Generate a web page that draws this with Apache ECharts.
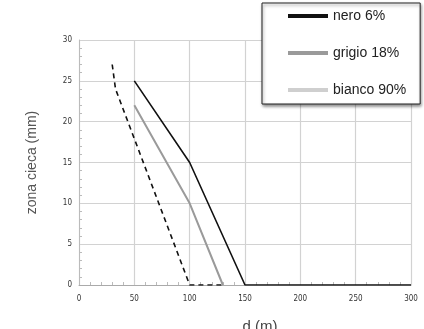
<!DOCTYPE html>
<html>
<head>
<meta charset="utf-8">
<script src="https://cdn.jsdelivr.net/npm/echarts@6/dist/echarts.min.js"></script>
<style>
  html, body { margin: 0; padding: 0; background: #fff; }
  #main { width: 424px; height: 329px; }
</style>
</head>
<body>
<div id="main"></div>
<script>
// dati (d in m, zona cieca in mm)
var nero = [[50, 25], [100, 15], [150, 0], [300, 0]]
var grigio = [[50, 22], [100, 10], [130, 0]]
var bianco = []
var tratteggio = [[30, 27], [33, 24], [100, 0], [130, 0]]
var legendNames = ['nero 6%', 'grigio 18%', 'bianco 90%']
var xTicks = [0, 300, 50]
var yTicks = [0, 30, 5]

var chart = echarts.init(document.getElementById('main'))

var tickFont = 'DejaVu Sans Condensed'

chart.setOption({
  animation: false,
  backgroundColor: '#fff',
  grid: { left: 79, right: 13, top: 40, bottom: 44, outerBoundsMode: 'none', containLabel: false },
  legend: {
    data: legendNames,
    orient: 'vertical',
    left: 262,
    top: 3,
    padding: [6, 14, 7, 24],
    itemGap: 23,
    itemWidth: 40,
    itemHeight: 14,
    itemTextGap: 14,
    backgroundColor: '#fff',
    borderColor: '#222',
    borderWidth: 1,
    borderRadius: 0,
    shadowColor: 'rgba(0,0,0,0.45)',
    shadowBlur: 3,
    shadowOffsetX: 1,
    shadowOffsetY: 2,
    itemStyle: { opacity: 0 },
    lineStyle: { width: 4, type: 'solid' },
    textStyle: { fontFamily: 'Liberation Sans', fontSize: 14, color: '#222' }
  },
  xAxis: {
    type: 'value',
    min: xTicks[0],
    max: xTicks[1],
    interval: xTicks[2],
    name: 'd (m)',
    nameLocation: 'middle',
    nameGap: 34,
    nameTextStyle: { fontFamily: 'Liberation Sans', fontSize: 15, color: '#444', padding: [0, 0, 0, 30] },
    axisLine: { show: true, lineStyle: { color: '#aaa', width: 1 } },
    axisTick: { show: false, inside: true },
    minorTick: { show: true, splitNumber: 5, length: 3, lineStyle: { color: '#bbb' } },
    axisLabel: { fontFamily: tickFont, fontSize: 8, color: '#333', margin: 10 },
    splitLine: { show: true, lineStyle: { color: '#d2d2d2', width: 1.2 } }
  },
  yAxis: {
    type: 'value',
    min: yTicks[0],
    max: yTicks[1],
    interval: yTicks[2],
    name: 'zona cieca (mm)',
    nameLocation: 'middle',
    nameGap: 40,
    nameTextStyle: { fontFamily: 'Liberation Sans', fontSize: 14, color: '#555' },
    axisLine: { show: true, lineStyle: { color: '#bbb', width: 1 } },
    axisTick: { show: false, inside: true },
    minorTick: { show: true, splitNumber: 5, length: 3, lineStyle: { color: '#bbb' } },
    axisLabel: { fontFamily: tickFont, fontSize: 8, color: '#333', margin: 7 },
    splitLine: { show: true, lineStyle: { color: '#d2d2d2', width: 1.2 } }
  },
  series: [
    {
      name: 'tratteggio',
      type: 'line',
      data: tratteggio,
      symbol: 'none',
      z: 3,
      lineStyle: { color: '#111', width: 1.6, type: [5, 4] }
    },
    {
      name: 'bianco 90%',
      type: 'line',
      data: bianco,
      symbol: 'none',
      itemStyle: { color: '#cfcfcf' },
      lineStyle: { color: '#cfcfcf', width: 2 }
    },
    {
      name: 'grigio 18%',
      type: 'line',
      data: grigio,
      symbol: 'none',
      itemStyle: { color: '#8c8c8c' },
      lineStyle: { color: '#9a9a9a', width: 2 }
    },
    {
      name: 'nero 6%',
      type: 'line',
      data: nero,
      symbol: 'none',
      z: 4,
      itemStyle: { color: '#111' },
      lineStyle: { color: '#111', width: 1.6 }
    }
  ]
})
</script>
</body>
</html>
